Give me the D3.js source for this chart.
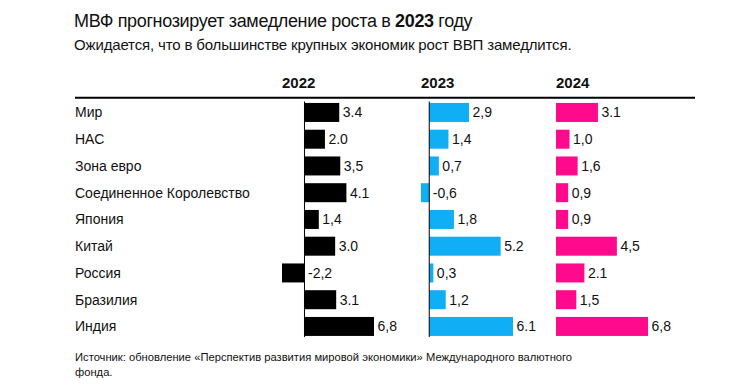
<!DOCTYPE html>
<html>
<head>
<meta charset="utf-8">
<script src="https://cdn.jsdelivr.net/npm/d3@7"></script>
<style>
  html, body { margin: 0; padding: 0; background: #fff; }
  svg { display: block; font-family: "Liberation Sans", Arial, sans-serif; }
</style>
</head>
<body>
<script>
const countries = ["Мир", "НАС", "Зона евро", "Соединенное Королевство", "Япония", "Китай", "Россия", "Бразилия", "Индия"];
const years = ["2022", "2023", "2024"];
const v2022 = [3.4, 2.0, 3.5, 4.1, 1.4, 3.0, -2.2, 3.1, 6.8];
const v2023 = [2.9, 1.4, 0.7, -0.6, 1.8, 5.2, 0.3, 1.2, 6.1];
const v2024 = [3.1, 1.0, 1.6, 0.9, 0.9, 4.5, 2.1, 1.5, 6.8];
const labels2022 = ["3.4", "2.0", "3,5", "4.1", "1,4", "3.0", "-2,2", "3.1", "6,8"];
const labels2023 = ["2,9", "1,4", "0,7", "-0,6", "1,8", "5.2", "0,3", "1,2", "6.1"];
const labels2024 = ["3.1", "1,0", "1,6", "0,9", "0,9", "4,5", "2.1", "1,5", "6,8"];
const colors = ["#000000", "#10aff5", "#ff0a8c"];

const W = 749, H = 387;
const svg = d3.select("body").append("svg").attr("width", W).attr("height", H);

// Title
const title = svg.append("text").attr("x", 74).attr("y", 27)
  .attr("font-size", 18).attr("letter-spacing", -0.35).attr("fill", "#111");
title.append("tspan").text("МВФ прогнозирует замедление роста в ");
title.append("tspan").attr("font-weight", "bold").text("2023");
title.append("tspan").text(" году");

svg.append("text").attr("x", 74).attr("y", 50)
  .attr("font-size", 15).attr("letter-spacing", -0.15).attr("fill", "#111")
  .text("Ожидается, что в большинстве крупных экономик рост ВВП замедлится.");

// Header rule
svg.append("line").attr("x1", 75).attr("x2", 695).attr("y1", 97.7).attr("y2", 97.7)
  .attr("stroke", "#000").attr("stroke-width", 2);

const y = d3.scaleBand().domain(countries).range([95.2, 343.7]).padding(0.29);

// Row labels
svg.append("g").selectAll("text").data(countries).join("text")
  .attr("x", 75)
  .attr("y", d => y(d) + y.bandwidth() / 2)
  .attr("dy", "0.35em")
  .attr("font-size", 14).attr("fill", "#111")
  .text(d => d);

const panels = [
  { year: years[0], values: v2022, labels: labels2022, color: colors[0], x0: 282 },
  { year: years[1], values: v2023, labels: labels2023, color: colors[1], x0: 421 },
  { year: years[2], values: v2024, labels: labels2024, color: colors[2], x0: 556 }
];
const panelW = 92;

panels.forEach(p => {
  const lo = Math.min(0, d3.min(p.values));
  const hi = Math.max(0, d3.max(p.values));
  const x = d3.scaleLinear().domain([lo, hi]).range([p.x0, p.x0 + panelW]);
  const g = svg.append("g");

  g.append("text").attr("x", p.x0).attr("y", 87.5)
    .attr("font-size", 15).attr("font-weight", "bold").attr("fill", "#111")
    .text(p.year);

  const rows = countries.map((c, i) => ({ c, v: p.values[i], l: p.labels[i] }));

  g.selectAll("rect").data(rows).join("rect")
    .attr("x", d => x(Math.min(0, d.v)))
    .attr("y", d => y(d.c))
    .attr("width", d => Math.abs(x(d.v) - x(0)))
    .attr("height", y.bandwidth())
    .attr("fill", p.color);

  if (lo < 0) {
    g.append("line")
      .attr("x1", x(0)).attr("x2", x(0))
      .attr("y1", 101.5).attr("y2", 337)
      .attr("stroke", "#000").attr("stroke-width", 1);
  }

  g.selectAll("text.val").data(rows).join("text")
    .attr("class", "val")
    .attr("x", d => (d.v >= 0 ? x(d.v) : x(0)) + 3.5)
    .attr("y", d => y(d.c) + y.bandwidth() / 2)
    .attr("dy", "0.35em")
    .attr("font-size", 14).attr("fill", "#111")
    .text(d => d.l);
});

// Footer
const foot = svg.append("text").attr("x", 75).attr("y", 361)
  .attr("font-size", 11.2).attr("fill", "#111");
foot.append("tspan").attr("x", 75).text("Источник: обновление «Перспектив развития мировой экономики» Международного валютного");
foot.append("tspan").attr("x", 75).attr("dy", 15).text("фонда.");
</script>
</body>
</html>
